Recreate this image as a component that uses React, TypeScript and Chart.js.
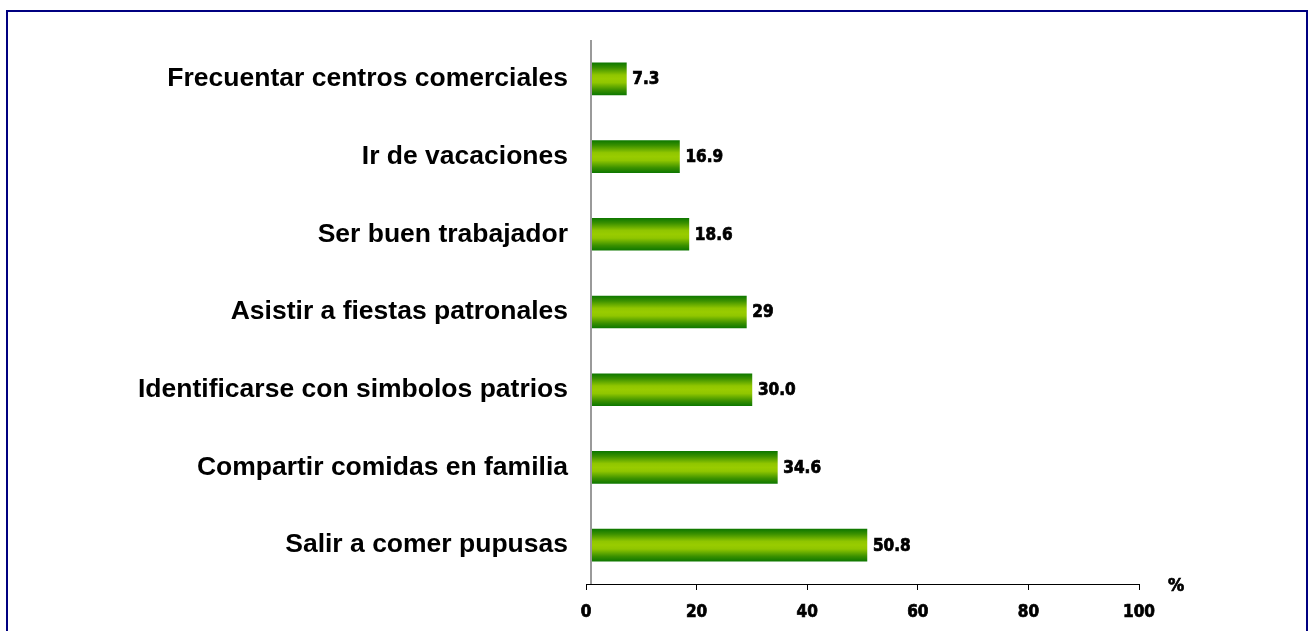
import { useEffect, useRef } from 'react';
import { Chart, registerables } from 'chart.js';

Chart.register(...registerables);

const categories = [
  'Frecuentar centros comerciales',
  'Ir de vacaciones',
  'Ser buen trabajador',
  'Asistir a fiestas patronales',
  'Identificarse con simbolos patrios',
  'Compartir comidas en familia',
  'Salir a comer pupusas',
];
const values = [7.3, 16.9, 18.6, 29, 30.0, 34.6, 50.8];
const valueLabels = ['7.3', '16.9', '18.6', '29', '30.0', '34.6', '50.8'];
const xMin = 0;
const xMax = 100;
const xStep = 20;
const unitLabel = '%';

const NUM_FONT = '"DejaVu Sans Condensed", "DejaVu Sans", Verdana, sans-serif';
const CAT_FONT = '"Liberation Sans", Arial, sans-serif';

const decoPlugin = {
  id: 'deco',
  beforeDraw(chart: any) {
    const { ctx, width, height } = chart;
    ctx.save();
    ctx.fillStyle = '#ffffff';
    ctx.fillRect(0, 0, width, height);
    ctx.strokeStyle = '#000080';
    ctx.lineWidth = 2;
    ctx.strokeRect(7, 11, 1300, 700);
    ctx.restore();
  },
  afterDatasetsDraw(chart: any) {
    const { ctx, chartArea, scales } = chart;
    const xs = scales.x;
    ctx.save();
    // vertical category axis line (grey, slightly offset from zero)
    const ax = xs.getPixelForValue(0) + 5;
    ctx.strokeStyle = '#9a9a9a';
    ctx.lineWidth = 2;
    ctx.beginPath();
    ctx.moveTo(ax, chartArea.top);
    ctx.lineTo(ax, chartArea.bottom);
    ctx.stroke();
    // value labels
    const meta = chart.getDatasetMeta(0);
    ctx.fillStyle = '#000';
    ctx.strokeStyle = '#000';
    ctx.lineWidth = 0.7;
    ctx.font = `bold 17px ${NUM_FONT}`;
    ctx.textAlign = 'left';
    ctx.textBaseline = 'middle';
    meta.data.forEach((bar: any, i: number) => {
      ctx.fillText(valueLabels[i], bar.x + 6, bar.y + 1);
      ctx.strokeText(valueLabels[i], bar.x + 6, bar.y + 1);
    });
    // unit label
    ctx.textAlign = 'center';
    ctx.font = `bold 18px ${NUM_FONT}`;
    ctx.fillText(unitLabel, chartArea.right + 37, chartArea.bottom + 2);
    ctx.strokeText(unitLabel, chartArea.right + 37, chartArea.bottom + 2);
    ctx.restore();
  },
};

function barGradient(context: any) {
  const chart = context.chart;
  const ys = chart.scales?.y;
  if (!ys || context.dataIndex === undefined) return '#99cc00';
  const cy = ys.getPixelForValue(context.dataIndex);
  if (!isFinite(cy)) return '#99cc00';
  const g = chart.ctx.createLinearGradient(0, cy - 16, 0, cy + 16);
  g.addColorStop(0, '#0f7800');
  g.addColorStop(0.15, '#3a9000');
  g.addColorStop(0.38, '#90c600');
  g.addColorStop(0.5, '#99cc00');
  g.addColorStop(0.62, '#90c600');
  g.addColorStop(0.85, '#3a9000');
  g.addColorStop(1, '#0f7800');
  return g;
}

export default function App() {
  const ref = useRef<HTMLCanvasElement | null>(null);
  useEffect(() => {
    if (!ref.current) return;
    const chart = new Chart(ref.current, {
      type: 'bar',
      data: {
        labels: categories,
        datasets: [
          {
            data: values,
            backgroundColor: barGradient,
            borderWidth: 0,
            barThickness: 32,
            base: 0.9,
          } as any,
        ],
      },
      options: {
        indexAxis: 'y',
        animation: false,
        responsive: true,
        maintainAspectRatio: false,
        layout: { padding: { top: 40, right: 170, left: 0, bottom: 0 } },
        plugins: { legend: { display: false }, tooltip: { enabled: false } },
        scales: {
          x: {
            min: xMin,
            max: xMax,
            ticks: {
              stepSize: xStep,
              color: '#000',
              font: { family: NUM_FONT, size: 17, weight: 'bold' },
              padding: 12,
              maxRotation: 0,
              textStrokeColor: '#000',
              textStrokeWidth: 0.7,
            },
            grid: {
              drawOnChartArea: false,
              drawTicks: true,
              tickLength: 6,
              color: '#000',
            },
            border: { display: true, color: '#000', width: 1 },
            afterFit: (s: any) => {
              s.height = 47;
            },
          },
          y: {
            ticks: {
              color: '#000',
              font: { family: CAT_FONT, size: 26.5, weight: 'bold' },
              padding: 18,
            },
            grid: { display: false, drawTicks: false },
            border: { display: false },
            afterFit: (s: any) => {
              s.width = 586;
            },
          },
        },
      },
      plugins: [decoPlugin],
    });
    return () => chart.destroy();
  }, []);
  return (
    <div style={{ position: 'fixed', left: 0, top: 0, width: 1309, height: 631, background: '#fff' }}>
      <canvas ref={ref} />
    </div>
  );
}
